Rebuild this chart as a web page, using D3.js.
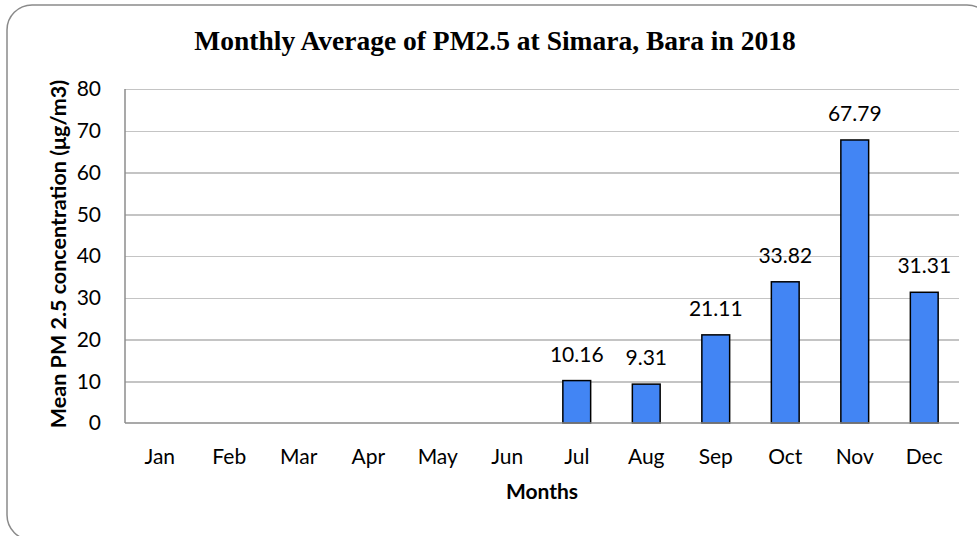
<!DOCTYPE html>
<html lang='en'>
<head>
    <meta charset='UTF-8'>
    <title>Monthly Average of PM2.5</title>
    <script src='https://cdn.jsdelivr.net/npm/d3@7'></script>
    <style>
        body { margin: 0; background: #fff; }
        svg text { font-family: Lato, 'Open Sans', sans-serif; fill: #000; }
        .title { font-family: 'Liberation Serif', serif !important; font-weight: bold; }
        .grid line { stroke: #c4c4c4; stroke-width: 1.5; shape-rendering: crispEdges; }
        .grid path { stroke-width: 0; }
        .bar { fill: #4285f4; stroke: #000; stroke-width: 1.5; }
    </style>
</head>
<body>
<script>
    // Chart data
    const months = ['Jan', 'Feb', 'Mar', 'Apr', 'May', 'Jun', 'Jul', 'Aug', 'Sep', 'Oct', 'Nov', 'Dec'];
    const pm25 = [null, null, null, null, null, null, 10.16, 9.31, 21.11, 33.82, 67.79, 31.31];
    const yTicks = [0, 10, 20, 30, 40, 50, 60, 70, 80];

    const W = 977, H = 536;
    const plot = { left: 125, right: 959, top: 89, bottom: 423 };

    const svg = d3.select('body').append('svg')
        .attr('width', W)
        .attr('height', H);

    // outer frame
    svg.append('rect')
        .attr('x', 7).attr('y', 5)
        .attr('width', 985).attr('height', 535)
        .attr('rx', 25).attr('ry', 25)
        .attr('fill', '#fff')
        .attr('stroke', '#8a8a8a')
        .attr('stroke-width', 1.5);

    const x = d3.scaleBand()
        .domain(months)
        .range([plot.left, plot.right])
        .paddingInner(0.6)
        .paddingOuter(0.3);

    const y = d3.scaleLinear()
        .domain([0, 80])
        .range([plot.bottom, plot.top]);

    // gridlines
    svg.append('g')
        .attr('class', 'grid')
        .attr('transform', `translate(${plot.left},0)`)
        .call(d3.axisLeft(y).tickValues(yTicks.slice(1)).tickSize(-(plot.right - plot.left)).tickFormat(''));

    // y tick labels
    svg.append('g')
        .selectAll('text')
        .data(yTicks)
        .join('text')
        .attr('x', 101)
        .attr('y', d => y(d))
        .attr('dy', '0.35em')
        .attr('text-anchor', 'end')
        .style('font-size', '21px')
        .text(d => d);

    // axis lines
    svg.append('line')
        .attr('x1', plot.left).attr('x2', plot.left)
        .attr('y1', plot.top).attr('y2', plot.bottom)
        .attr('stroke', '#8c8c8c').attr('stroke-width', 1.5);

    // bars
    const withValues = months.map((m, i) => ({ month: m, value: pm25[i] })).filter(d => d.value !== null);

    svg.selectAll('.bar')
        .data(withValues)
        .join('rect')
        .attr('class', 'bar')
        .attr('x', d => x(d.month))
        .attr('y', d => y(d.value))
        .attr('width', x.bandwidth())
        .attr('height', d => y(0) - y(d.value));

    svg.append('line')
        .attr('x1', plot.left).attr('x2', plot.right)
        .attr('y1', plot.bottom).attr('y2', plot.bottom)
        .attr('stroke', '#8c8c8c').attr('stroke-width', 1.5);

    // value labels
    svg.selectAll('.value')
        .data(withValues)
        .join('text')
        .attr('class', 'value')
        .attr('x', d => x(d.month) + x.bandwidth() / 2)
        .attr('y', d => y(d.value) - 19)
        .attr('text-anchor', 'middle')
        .style('font-size', '21px')
        .text(d => d.value.toFixed(2));

    // month labels
    svg.append('g')
        .selectAll('text')
        .data(months)
        .join('text')
        .attr('x', d => x(d) + x.bandwidth() / 2)
        .attr('y', 464)
        .attr('text-anchor', 'middle')
        .style('font-size', '21px')
        .text(d => d);

    // titles
    svg.append('text')
        .attr('class', 'title')
        .attr('x', 495)
        .attr('y', 50)
        .attr('text-anchor', 'middle')
        .style('font-size', '27.5px')
        .text('Monthly Average of PM2.5 at Simara, Bara in 2018');

    svg.append('text')
        .attr('x', 542)
        .attr('y', 499)
        .attr('text-anchor', 'middle')
        .style('font-size', '21px')
        .style('font-weight', 'bold')
        .text('Months');

    svg.append('text')
        .attr('transform', 'translate(66, 254) rotate(-90)')
        .attr('text-anchor', 'middle')
        .style('font-size', '21.5px')
        .style('font-weight', 'bold')
        .text('Mean PM 2.5 concentration (μg/m3)');
</script>
</body>
</html>
